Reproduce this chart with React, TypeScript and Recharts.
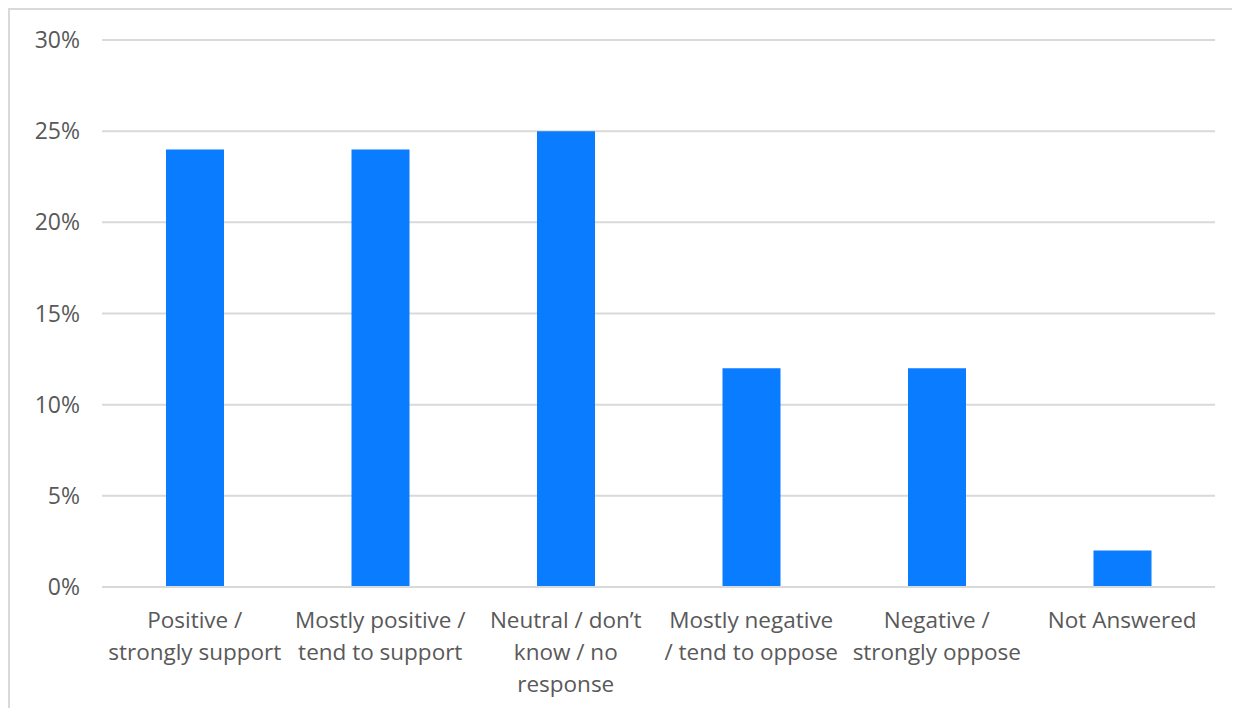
import React from "react";
import { BarChart, Bar, XAxis, YAxis, CartesianGrid } from "recharts";

const categories = [
  "Positive / strongly support",
  "Mostly positive / tend to support",
  "Neutral / don’t know / no response",
  "Mostly negative / tend to oppose",
  "Negative / strongly oppose",
  "Not Answered",
];
const tickLines: string[][] = [
  ["Positive /", "strongly support"],
  ["Mostly positive /", "tend to support"],
  ["Neutral / don’t", "know / no", "response"],
  ["Mostly negative", "/ tend to oppose"],
  ["Negative /", "strongly oppose"],
  ["Not Answered"],
];
const values = [24, 24, 25, 12, 12, 2];
const yTicks = [0, 5, 10, 15, 20, 25, 30];

const data = categories.map((c, i) => ({ name: c, value: values[i], idx: i }));

const FONT = "'Open Sans', sans-serif";
const TEXT = "#595959";

const XTick = (props: any) => {
  const { x, y, payload } = props;
  const lines = tickLines[payload.index] || [String(payload.value)];
  return (
    <g>
      {lines.map((l, i) => (
        <text
          key={i}
          x={x}
          y={y + 33 + i * 32}
          textAnchor="middle"
          fill={TEXT}
          fontSize={22.5}
          fontFamily={FONT}
        >
          {l}
        </text>
      ))}
    </g>
  );
};

export default function App() {
  return (
    <div
      style={{
        width: 1232,
        height: 700,
        borderTop: "2px solid #d9d9d9",
        borderLeft: "2px solid #d9d9d9",
        boxSizing: "border-box",
        background: "#fff",
      }}
    >
      <BarChart
        width={1230}
        height={698}
        data={data}
        margin={{ top: 30, right: 25, left: 0, bottom: 0 }}
        barCategoryGap={0}
      >
        <CartesianGrid vertical={false} stroke="#d9d9d9" strokeWidth={2} />
        <XAxis
          dataKey="name"
          interval={0}
          height={121}
          axisLine={{ stroke: "#d9d9d9", strokeWidth: 2 }}
          tickLine={false}
          tick={<XTick />}
        />
        <YAxis
          domain={[0, 30]}
          ticks={yTicks}
          width={92}
          axisLine={false}
          tickLine={false}
          tickSize={0}
          tickMargin={22}
          tickFormatter={(v: number) => `${v}%`}
          tick={{ fill: TEXT, fontSize: 23, fontFamily: FONT }}
        />
        <Bar dataKey="value" fill="#0a7cff" barSize={58} isAnimationActive={false} />
      </BarChart>
    </div>
  );
}
